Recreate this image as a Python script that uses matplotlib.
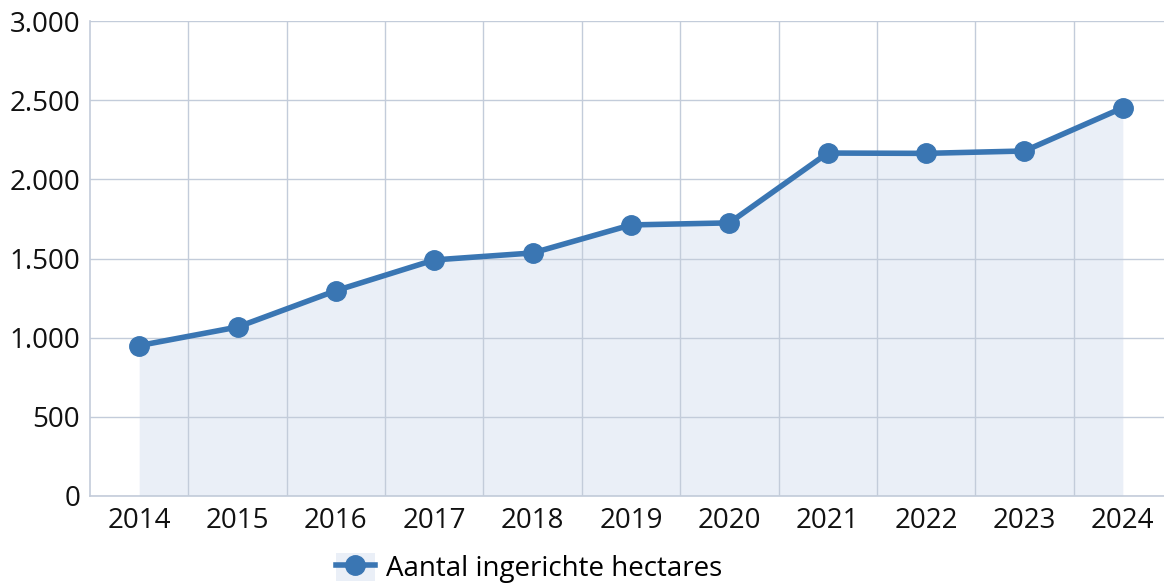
import matplotlib.pyplot as plt
from matplotlib.patches import Patch
from matplotlib.lines import Line2D
from matplotlib.ticker import FuncFormatter

jaren = ['2014', '2015', '2016', '2017', '2018', '2019', '2020', '2021', '2022', '2023', '2024']
hectares = [950, 1067, 1297, 1491, 1535, 1712, 1725, 2166, 2164, 2179, 2452]
y_ticks = [0, 500, 1000, 1500, 2000, 2500, 3000]

lijn_kleur = '#3a76b3'
vlak_kleur = '#eaeff7'
grid_kleur = '#c3ccda'

plt.rcParams['font.family'] = ['Open Sans', 'DejaVu Sans']

fig = plt.figure(figsize=(11.64, 5.87), dpi=100)
# plotgebied loopt rechts iets buiten het beeld door
ax = fig.add_axes([90 / 1164, 1 - 496 / 587, (1172 - 90) / 1164, (496 - 21) / 587])

x = list(range(len(jaren)))
ax.fill_between(x, hectares, 0, color=vlak_kleur, linewidth=0, zorder=1)
ax.plot(x, hectares, color=lijn_kleur, linewidth=4, marker='o', markersize=14, zorder=3, clip_on=False)

ax.set_xlim(-0.5, len(jaren) - 0.5)
ax.set_ylim(0, 3000)
ax.set_xticks(x)
ax.set_xticklabels(jaren)
ax.set_yticks(y_ticks)
ax.yaxis.set_major_formatter(FuncFormatter(lambda v, p: f'{int(v):,}'.replace(',', '.')))

# verticale lijnen tussen de jaren
ax.set_xticks([i + 0.5 for i in x[:-1]], minor=True)
ax.grid(True, which='minor', axis='x', color=grid_kleur, linewidth=1, zorder=2)
ax.grid(True, which='major', axis='y', color=grid_kleur, linewidth=1, zorder=2)
ax.set_axisbelow(False)

ax.tick_params(axis='both', which='both', length=0, labelsize=20, colors='#111111')
ax.tick_params(axis='x', pad=8)
ax.tick_params(axis='y', pad=7)

for kant in ['top', 'right']:
    ax.spines[kant].set_visible(False)
for kant in ['left', 'bottom']:
    ax.spines[kant].set_color(grid_kleur)
    ax.spines[kant].set_linewidth(1.2)

handle = (Patch(facecolor=vlak_kleur, edgecolor='none'),
          Line2D([], [], color=lijn_kleur, linewidth=4, marker='o', markersize=14))
fig.legend([handle], ['Aantal ingerichte hectares'], loc='center', bbox_to_anchor=(529 / 1164, 1 - 568 / 587),
           frameon=False, fontsize=20, handlelength=1.4, handleheight=1.2, handletextpad=0.4)

fig.savefig('out.png', dpi=100)
